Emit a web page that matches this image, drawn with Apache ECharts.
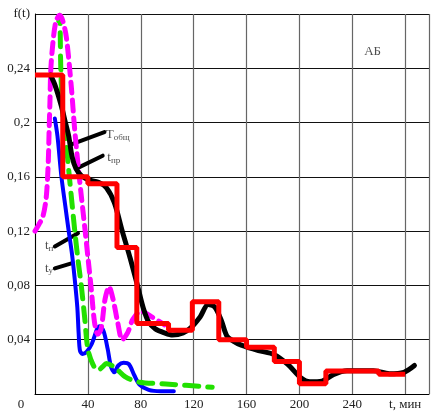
<!DOCTYPE html>
<html lang="ru">
<head>
	<meta charset="UTF-8">
	<title>f(t)</title>
	<style>
	body, div {
		margin: 0;
		padding: 0;
	}
	#echart {
		width: 432px;
		height: 414px;
	}
	</style>
</head>
<body>
	<div id="echart"></div>

	<script src="https://cdn.jsdelivr.net/npm/echarts@6/dist/echarts.min.js"></script>

	<script>
	// Тобщ - гистограмма (ступеньки)
	var tStep = [0, 21, 40, 62, 77, 101, 119, 139, 160, 181, 200, 220, 260, 280];
	var fStep = [0.235, 0.16, 0.155, 0.108, 0.052, 0.047, 0.068, 0.040, 0.0345, 0.024, 0.0075, 0.017, 0.0145, 0.0145];

	// Тобщ - сглаженная кривая
	var tTotal = [11.7, 15, 20, 23, 25.5, 28, 31, 35, 40, 48, 54, 60, 66, 72, 77.5, 82, 86, 91, 98, 104, 112, 118, 125, 131, 136, 141, 145, 150, 156, 169, 181, 191, 201, 208, 217, 226, 236, 256, 268, 279, 287];
	var fTotal = [0.235, 0.228, 0.212, 0.2, 0.19, 0.175, 0.166, 0.161, 0.158, 0.156, 0.152, 0.141, 0.12, 0.1, 0.08, 0.063, 0.053, 0.048, 0.045, 0.0435, 0.045, 0.049, 0.057, 0.066, 0.064, 0.054, 0.043, 0.039, 0.036, 0.032, 0.029, 0.022, 0.012, 0.009, 0.0095, 0.0145, 0.0172, 0.0172, 0.015, 0.016, 0.021];

	// tпр
	var tPr = [0, 3, 6, 8.5, 10, 10.7, 11.3, 12, 14, 16, 18.7, 21, 23.7, 27.5, 30, 33.7, 37.5, 40, 42.5, 45, 47.5, 50, 53, 56, 59, 62.5, 66, 70, 74, 80, 88, 98];
	var fPr = [0.12, 0.125, 0.131, 0.145, 0.17, 0.195, 0.215, 0.24, 0.263, 0.275, 0.279, 0.275, 0.263, 0.226, 0.195, 0.158, 0.124, 0.101, 0.078, 0.053, 0.044, 0.048, 0.07, 0.079, 0.07, 0.053, 0.04, 0.045, 0.055, 0.061, 0.057, 0.051];

	// tп
	var tN = [18, 18.7, 19.5, 21, 22.5, 26, 30, 32.5, 35, 37.5, 40, 43.7, 47.5, 51, 54, 60, 68.7, 79, 99, 134];
	var fN = [0.275, 0.279, 0.24, 0.205, 0.195, 0.16, 0.121, 0.099, 0.08, 0.057, 0.033, 0.022, 0.0173, 0.02, 0.0225, 0.0198, 0.0124, 0.0087, 0.0074, 0.005];

	// tу
	var tY = [15, 17, 20, 23, 25.5, 28, 30, 32, 33, 34, 36, 39, 43, 47, 49, 52, 55, 57.5, 60, 63, 67, 71, 75, 79, 86, 95, 105];
	var fY = [0.203, 0.19, 0.16, 0.138, 0.12, 0.103, 0.085, 0.064, 0.045, 0.032, 0.0295, 0.031, 0.037, 0.048, 0.05, 0.046, 0.033, 0.02, 0.016, 0.021, 0.023, 0.022, 0.014, 0.007, 0.003, 0.002, 0.002];

	// подписи кривых: текст, точка текста, выноска
	var noteText = ['{a|Т}{s|общ}', '{a|t}{s|пр}', '{a|t}{s|п}', '{a|t}{s|у}', '{a|АБ}'];
	var noteAt = [[53.5, 0.191], [54.7, 0.174], [7.5, 0.109], [7.5, 0.0926], [249, 0.252]];
	var leaders = [
		[[27.5, 0.184], [52.5, 0.193]],
		[[33.2, 0.167], [51.2, 0.1756]],
		[[32.5, 0.1185], [15, 0.1087]],
		[[27.5, 0.0963], [15, 0.0926]]
	];

	var xTicks = { 0: '0', 280: 't, мин' };
	var yTop = 'f(t)';

	function pairs(xs, ys) {
		return xs.map(function (x, i) { return [x, ys[i]]; });
	}

	var myEchart = echarts.init(document.getElementById('echart'));
	var font = 'Liberation Serif';

	option = {
		animation: false,
		grid: {
			left: 35,
			top: 14,
			right: 0,
			bottom: 20
		},
		xAxis: {
			type: 'value',
			min: 0,
			max: 298,
			interval: 40,
			axisLine: { lineStyle: { color: '#000', width: 1 } },
			axisTick: { show: false },
			splitLine: { lineStyle: { color: '#666', width: 1.2 } },
			axisLabel: {
				color: '#222',
				fontFamily: font,
				fontSize: 13,
				margin: 4,
				formatter: function (v) {
					if (v === 0) return '{z|0}';
					if (xTicks[v]) return xTicks[v];
					return v % 40 === 0 ? String(v) : '';
				},
				rich: {
					z: { padding: [0, 28, 0, 0], fontFamily: font, fontSize: 13, color: '#222' }
				}
			}
		},
		yAxis: {
			type: 'value',
			min: 0,
			max: 0.28,
			interval: 0.04,
			axisLine: { show: true, lineStyle: { color: '#000', width: 1 } },
			axisTick: { show: false },
			splitLine: { lineStyle: { color: '#111', width: 1 } },
			axisLabel: {
				color: '#222',
				fontFamily: font,
				fontSize: 13,
				margin: 5,
				formatter: function (v) {
					if (v === 0) return '';
					if (Math.abs(v - 0.28) < 1e-6) return yTop;
					return String(+v.toFixed(2)).replace('.', ',');
				}
			}
		},
		series: [
			{
				type: 'line', name: 'tу', data: pairs(tY, fY), smooth: 0.3,
				showSymbol: false, lineStyle: { color: '#0000ff', width: 4, cap: 'round' }
			},
			{
				type: 'line', name: 'tп', data: pairs(tN, fN), smooth: 0.3,
				showSymbol: false, lineStyle: { color: '#22e000', width: 5, type: [14, 9], cap: 'round' }
			},
			{
				type: 'line', name: 'tпр', data: pairs(tPr, fPr), smooth: 0.3,
				showSymbol: false, lineStyle: { color: '#ff00ff', width: 5, type: [11, 7], cap: 'round' }
			},
			{
				type: 'line', name: 'Тобщ', data: pairs(tTotal, fTotal), smooth: 0.3,
				showSymbol: false, lineStyle: { color: '#000', width: 5, cap: 'round' }
			},
			{
				type: 'line', name: 'Тобщ ст.', data: pairs(tStep, fStep), step: 'end',
				showSymbol: false, lineStyle: { color: '#ff0000', width: 5 }
			},
			{
				type: 'lines', coordinateSystem: 'cartesian2d', silent: true,
				lineStyle: { color: '#000', width: 4, opacity: 1, cap: 'round' },
				data: leaders.map(function (c) { return { coords: c }; })
			},
			{
				type: 'scatter', symbolSize: 0, silent: true,
				data: noteAt,
				label: {
					show: true,
					position: 'right',
					distance: 0,
					formatter: function (p) { return noteText[p.dataIndex]; },
					rich: {
						a: { fontFamily: font, fontSize: 13, color: '#222' },
						s: { fontFamily: font, fontSize: 9, color: '#222', padding: [5, 0, 0, 0] }
					}
				}
			}
		]
	};

	myEchart.setOption(option);
	</script>
</body>
</html>
